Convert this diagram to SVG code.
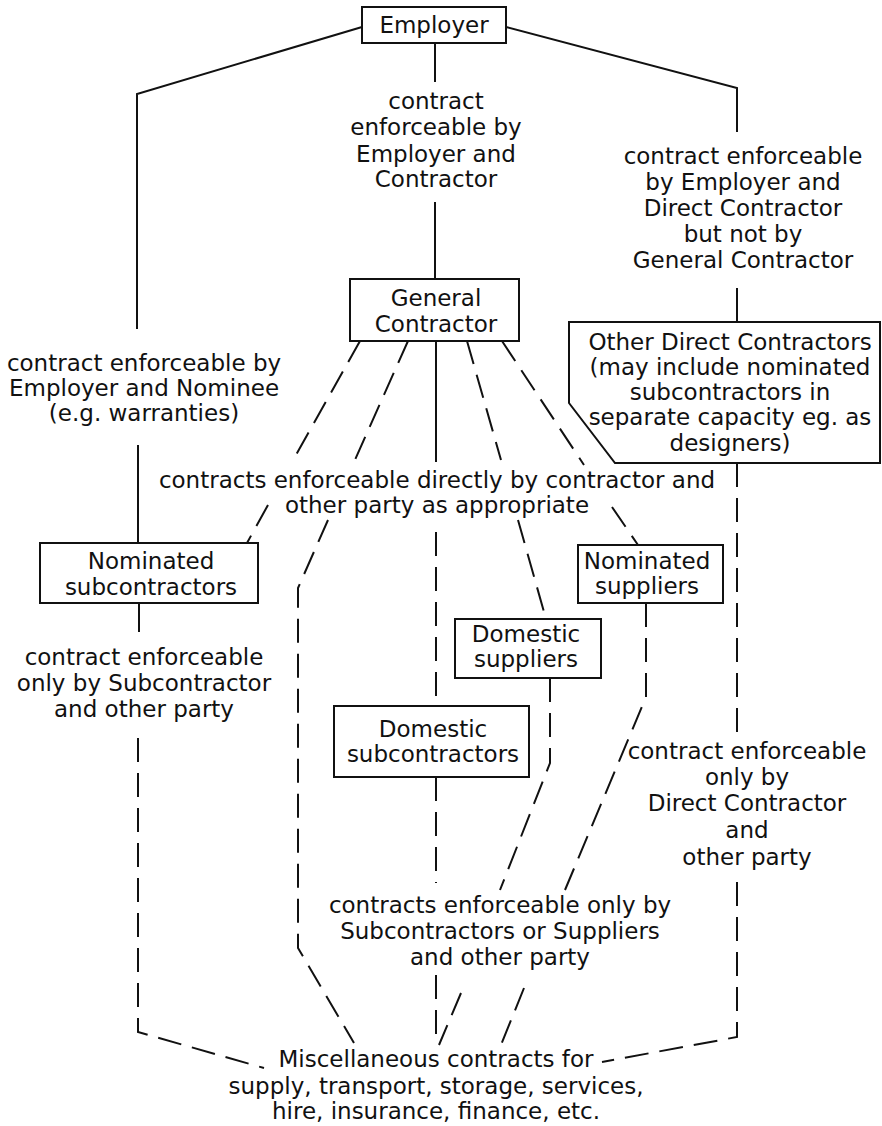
<svg xmlns="http://www.w3.org/2000/svg" width="882" height="1126" viewBox="0 0 882 1126">
  <style>
    text { font-family: "DejaVu Sans", "Liberation Sans", sans-serif; font-size: 23px; fill: #111; text-anchor: middle; }
    .box { fill: #fff; stroke: #111; stroke-width: 2; }
    .solid { fill: none; stroke: #111; stroke-width: 2; }
    .dash { fill: none; stroke: #111; stroke-width: 2; stroke-dasharray: 24 11; }
  </style>
  <rect width="882" height="1126" fill="#fff"/>

  <!-- connectors -->
  <g id="connectors">
    <!-- Employer to nominee / general contractor / direct contractors -->
    <path class="solid" d="M362,27 L137,94 L137,329"/>
    <path class="solid" d="M138,445 L138,543"/>
    <path class="solid" d="M435,43 L435,82"/>
    <path class="solid" d="M435,202 L435,279"/>
    <path class="solid" d="M506,27 L737,88 L737,132"/>
    <path class="solid" d="M737,288 L737,322"/>
    <!-- General Contractor fan -->
    <path class="dash" d="M360,341 L292,462"/>
    <path class="dash" d="M268,505 L247,543"/>
    <path class="dash" d="M408,341 L354,462"/>
    <path class="dash" d="M328,520 L298,588 L298,948 L354,1043"/>
    <path class="solid" d="M436,341 L436,462"/>
    <path class="dash" d="M436,532 L436,706"/>
    <path class="dash" d="M467,341 L501,460"/>
    <path class="dash" d="M518,520 L546,619"/>
    <path class="dash" d="M502,341 L584,465"/>
    <path class="dash" d="M612,507 L638,545"/>
    <!-- lower tier to miscellaneous contracts -->
    <path class="solid" d="M139,603 L139,632"/>
    <path class="dash" d="M138,738 L138,1032 L264,1068"/>
    <path class="dash" d="M436,777 L436,883"/>
    <path class="dash" d="M436,975 L436,1045"/>
    <path class="dash" d="M550,678 L550,763 L500,890"/>
    <path class="dash" d="M461,993 L439,1045"/>
    <path class="dash" d="M646,603 L646,697 L565,890"/>
    <path class="dash" d="M524,988 L501,1045"/>
    <path class="dash" d="M737,463 L737,740"/>
    <path class="dash" d="M737,882 L737,1037 L602,1062"/>
  </g>

  <!-- nodes -->
  <g id="employer">
    <rect class="box" x="362" y="7" width="144" height="36"/>
    <text x="434" y="33">Employer</text>
  </g>
  <g id="general-contractor">
    <rect class="box" x="350" y="279" width="169" height="62"/>
    <text x="436" y="306">General</text>
    <text x="436" y="332">Contractor</text>
  </g>
  <g id="other-direct-contractors">
    <polygon class="box" points="569,322 880,322 880,463 615,463 569,403"/>
    <text x="730" y="350">Other Direct Contractors</text>
    <text x="730" y="375">(may include nominated</text>
    <text x="730" y="400">subcontractors in</text>
    <text x="730" y="425">separate capacity eg. as</text>
    <text x="730" y="451">designers)</text>
  </g>
  <g id="nominated-subcontractors">
    <rect class="box" x="40" y="543" width="218" height="60"/>
    <text x="151" y="569">Nominated</text>
    <text x="151" y="595">subcontractors</text>
  </g>
  <g id="nominated-suppliers">
    <rect class="box" x="578" y="545" width="145" height="58"/>
    <text x="647" y="569">Nominated</text>
    <text x="647" y="594">suppliers</text>
  </g>
  <g id="domestic-suppliers">
    <rect class="box" x="455" y="619" width="146" height="59"/>
    <text x="526" y="642">Domestic</text>
    <text x="526" y="667">suppliers</text>
  </g>
  <g id="domestic-subcontractors">
    <rect class="box" x="334" y="706" width="195" height="71"/>
    <text x="433" y="737">Domestic</text>
    <text x="433" y="762">subcontractors</text>
  </g>
  <g id="miscellaneous-contracts">
    <text x="436" y="1067">Miscellaneous contracts for</text>
    <text x="436" y="1094">supply, transport, storage, services,</text>
    <text x="436" y="1119">hire, insurance, finance, etc.</text>
  </g>

  <!-- connector labels -->
  <g id="labels">
    <text x="436" y="109">contract</text>
    <text x="436" y="135">enforceable by</text>
    <text x="436" y="162">Employer and</text>
    <text x="436" y="187">Contractor</text>

    <text x="743" y="164">contract enforceable</text>
    <text x="743" y="190">by Employer and</text>
    <text x="743" y="216">Direct Contractor</text>
    <text x="743" y="242">but not by</text>
    <text x="743" y="268">General Contractor</text>

    <text x="144" y="371">contract enforceable by</text>
    <text x="144" y="396">Employer and Nominee</text>
    <text x="144" y="421">(e.g. warranties)</text>

    <text x="437" y="488">contracts enforceable directly by contractor and</text>
    <text x="437" y="513">other party as appropriate</text>

    <text x="144" y="665">contract enforceable</text>
    <text x="144" y="691">only by Subcontractor</text>
    <text x="144" y="717">and other party</text>

    <text x="747" y="759">contract enforceable</text>
    <text x="747" y="785">only by</text>
    <text x="747" y="811">Direct Contractor</text>
    <text x="747" y="838">and</text>
    <text x="747" y="865">other party</text>

    <text x="500" y="913">contracts enforceable only by</text>
    <text x="500" y="939">Subcontractors or Suppliers</text>
    <text x="500" y="965">and other party</text>
  </g>
</svg>
